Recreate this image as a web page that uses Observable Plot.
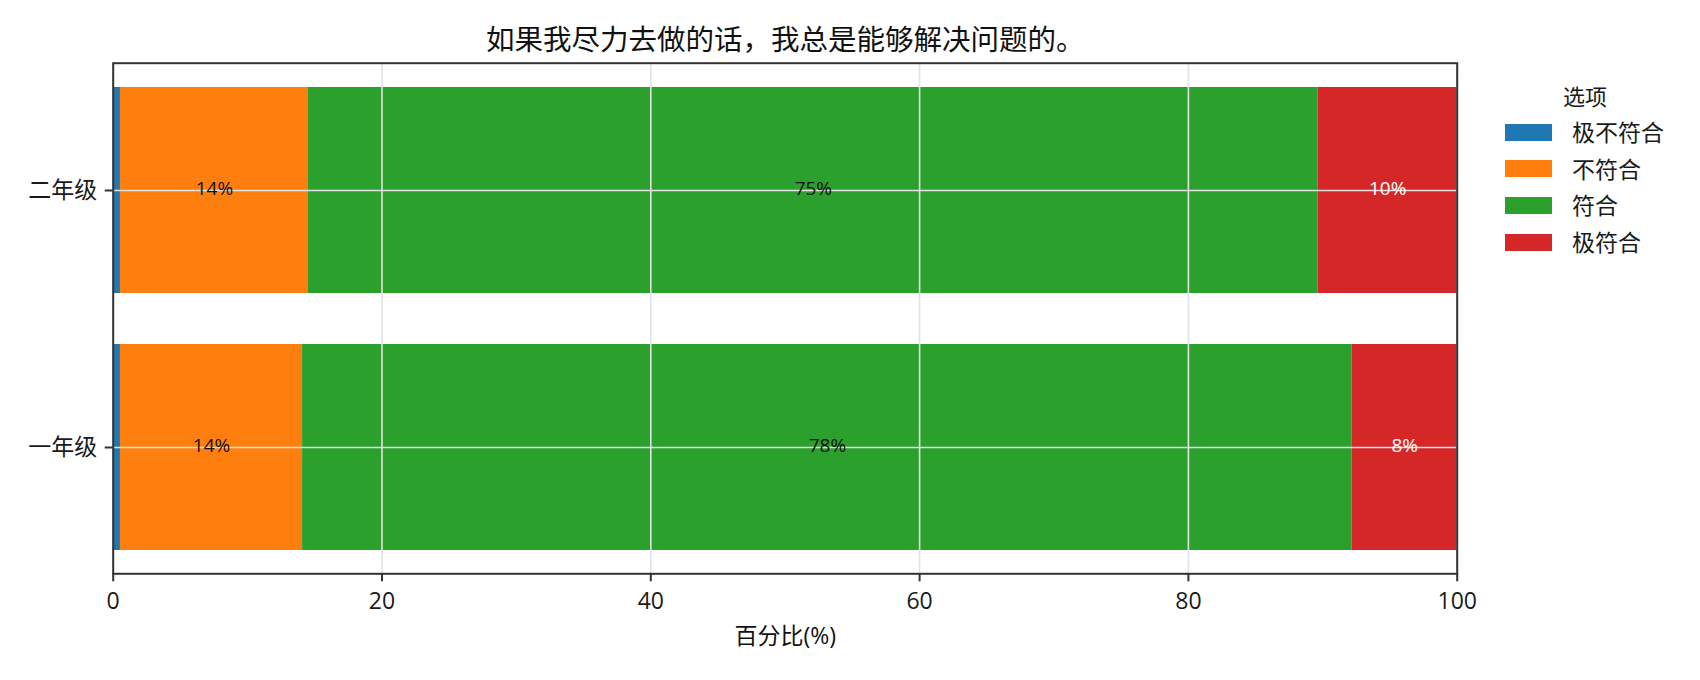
<!DOCTYPE html>
<html>
<head>
<meta charset="utf-8">
<script src="https://cdn.jsdelivr.net/npm/d3@7"></script>
<script src="https://cdn.jsdelivr.net/npm/@observablehq/plot@0.6"></script>
<style>
  html, body { margin: 0; padding: 0; background: #fff; }
  #wrap { position: relative; width: 1700px; height: 680px; font-family: 'Open Sans', 'Noto Sans CJK SC', sans-serif; color: #1a1a1a; }
  #legend { position: absolute; left: 1505px; top: 82px; }
  #legend .ttl { position: absolute; left: 56px; top: 0; width: 48px; text-align: center; font-size: 22px; line-height: 28px; white-space: nowrap; }
  #legend .row { position: absolute; left: 0; height: 28px; display: flex; align-items: center; white-space: nowrap; }
  #legend .sw { width: 47px; height: 17px; margin-right: 20px; }
  #legend .lb { font-size: 23px; line-height: 28px; }
</style>
</head>
<body>
<div id="wrap"></div>
<script>
const title = "如果我尽力去做的话，我总是能够解决问题的。";
const xLabel = "百分比(%)";
const legendTitle = "选项";
const grades = ["二年级", "一年级"];
const options = ["极不符合", "不符合", "符合", "极符合"];
const colors = ["#1f77b4", "#ff7f0e", "#2ca02c", "#d62728"];
// percentages per option, in the order of grades
const v极不符合 = [0.54, 0.54];
const v不符合 = [13.99, 13.55];
const v符合 = [75.13, 78.10];
const v极符合 = [10.34, 7.81];
const xTicks = [0, 20, 40, 60, 80, 100];

const series = [v极不符合, v不符合, v符合, v极符合];
const table = [];
options.forEach((opt, i) => {
  grades.forEach((g, j) => table.push({grade: g, option: opt, value: series[i][j]}));
});
const fmt = d => d.value >= 2 ? Math.round(d.value) + "%" : "";

const chart = Plot.plot({
  width: 1700,
  height: 680,
  marginLeft: 112.7,
  marginRight: 243.3,
  marginTop: 62.7,
  marginBottom: 106.7,
  style: {fontFamily: "'Open Sans', 'Noto Sans CJK SC', sans-serif", color: "#1a1a1a", background: "#fff"},
  x: {domain: [0, 100], label: null},
  y: {domain: grades, paddingInner: 0.2, paddingOuter: 0.09, label: null},
  color: {domain: options, range: colors},
  marks: [
    Plot.barX(table, Plot.stackX({x: "value", y: "grade", fill: "option"})),
    Plot.gridX(xTicks, {stroke: "#e3e3e3", strokeOpacity: 1, strokeWidth: 1.6}),
    Plot.gridY(grades, {stroke: "#e3e3e3", strokeOpacity: 1, strokeWidth: 1.6}),
    Plot.text(table, Plot.stackX({x: "value", y: "grade", text: d => d.option !== "极符合" ? fmt(d) : "", fill: "#111", fontSize: 19, dy: -2})),
    Plot.text(table, Plot.stackX({x: "value", y: "grade", text: d => d.option === "极符合" ? fmt(d) : "", fill: "#fff", fontSize: 19, dy: -2})),
    Plot.frame({stroke: "#333", strokeWidth: 2}),
    Plot.axisX(xTicks, {tickSize: 8, tickPadding: 11, fontSize: 23, label: null, stroke: "#333", strokeWidth: 2}),
    Plot.axisY({tickSize: 8, tickPadding: 8, fontSize: 23, label: null, stroke: "#333", strokeWidth: 2}),
    Plot.text([title], {frameAnchor: "top", dy: -22, fontSize: 28.5, lineAnchor: "middle", fill: "#111"}),
    Plot.text([xLabel], {frameAnchor: "bottom", dy: 63, fontSize: 23, lineAnchor: "middle", fill: "#111"})
  ]
});

const wrap = document.getElementById("wrap");
wrap.appendChild(chart);

const legend = document.createElement("div");
legend.id = "legend";
const ttl = document.createElement("div");
ttl.className = "ttl";
ttl.textContent = legendTitle;
legend.appendChild(ttl);
options.forEach((opt, i) => {
  const row = document.createElement("div");
  row.className = "row";
  row.style.top = (36 + i * 36.7) + "px";
  const sw = document.createElement("div");
  sw.className = "sw";
  sw.style.background = colors[i];
  const lb = document.createElement("span");
  lb.className = "lb";
  lb.textContent = opt;
  row.appendChild(sw);
  row.appendChild(lb);
  legend.appendChild(row);
});
wrap.appendChild(legend);
</script>
</body>
</html>
